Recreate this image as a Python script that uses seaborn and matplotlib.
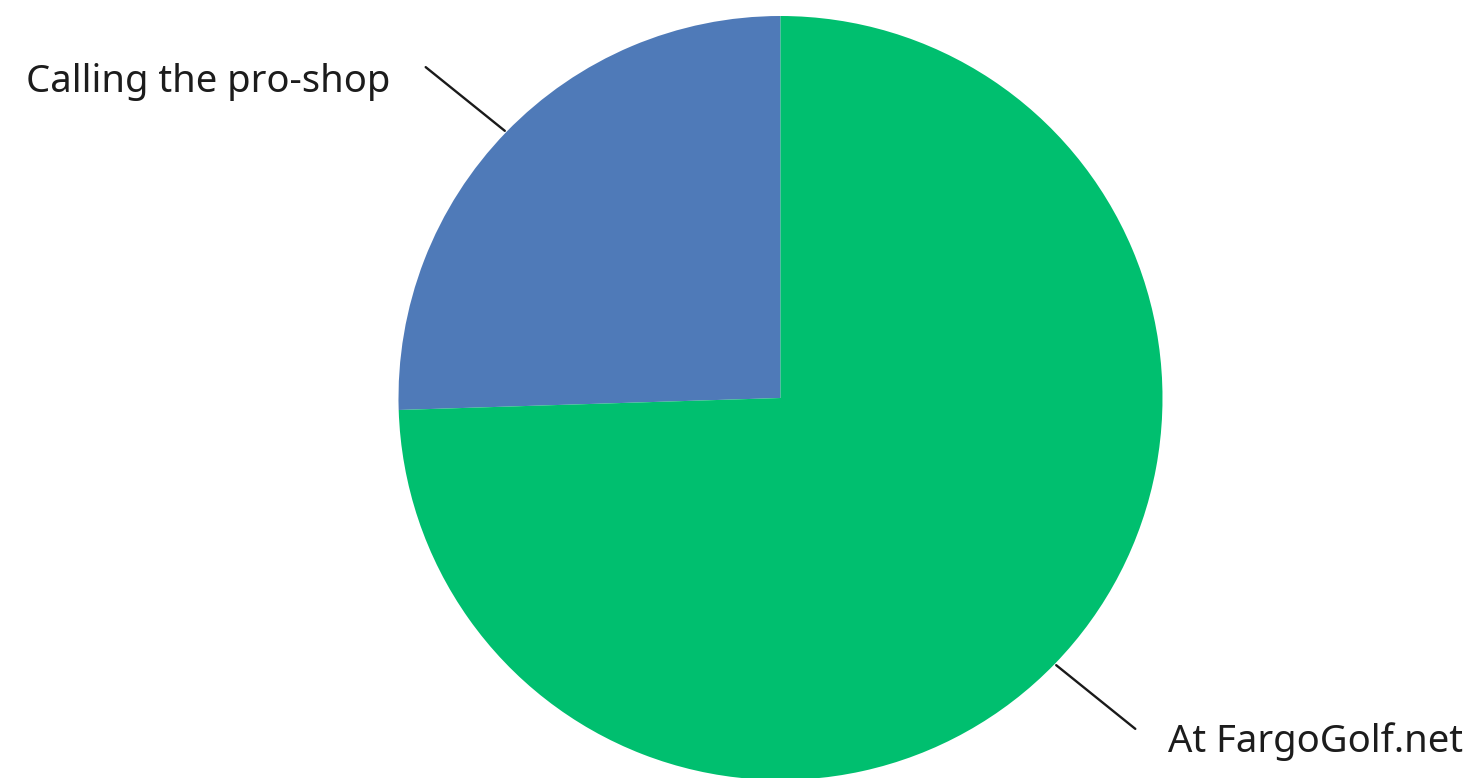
import numpy as np
import matplotlib
matplotlib.use("Agg")
import matplotlib.pyplot as plt
import seaborn as sns

# Survey answers: where respondents book tee times
categories = ["Calling the pro-shop", "At FargoGolf.net"]
shares = [25.5, 74.5]
colors = ["#4f7ab8", "#00bf6f"]

sns.set_theme(style="white")
plt.rcParams["font.family"] = ["Noto Sans", "DejaVu Sans"]

W, H = 1476, 778
fig = plt.figure(figsize=(W / 100, H / 100), dpi=100)
ax = fig.add_axes([0, 0, 1, 1])

# Pixel layout of the pie: centre and radius
cx, cy, r = 780.5, 398.0, 382.0

wedges, _ = ax.pie(shares, colors=colors, startangle=90, counterclock=True,
                   radius=1.0, center=(0, 0), frame=True,
                   wedgeprops=dict(linewidth=0))
ax.set_xlim(-cx / r, (W - cx) / r)
ax.set_ylim(-(H - cy) / r, cy / r)
ax.axis("off")

# Leader lines and labels placed at each wedge's mid-angle
for w, label in zip(wedges, categories):
    mid = (w.theta1 + w.theta2) / 2
    a0 = np.deg2rad(mid)
    a1 = np.deg2rad(mid + 1.1)
    x0, y0 = np.cos(a0) * 1.005, np.sin(a0) * 1.005
    x1, y1 = np.cos(a1) * 1.27, np.sin(a1) * 1.27
    ax.plot([x0, x1], [y0, y1], color="#1a1a1a", lw=1.7, solid_capstyle="round")
    if x1 < 0:
        ax.text(x1 - 0.092, y1 - 0.04, label, ha="right", va="center",
                fontsize=27.5, color="#1c1c1c")
    else:
        ax.text(x1 + 0.086, y1 - 0.033, label, ha="left", va="center",
                fontsize=27.5, color="#1c1c1c")

fig.savefig("out.png", dpi=100, facecolor="white")
